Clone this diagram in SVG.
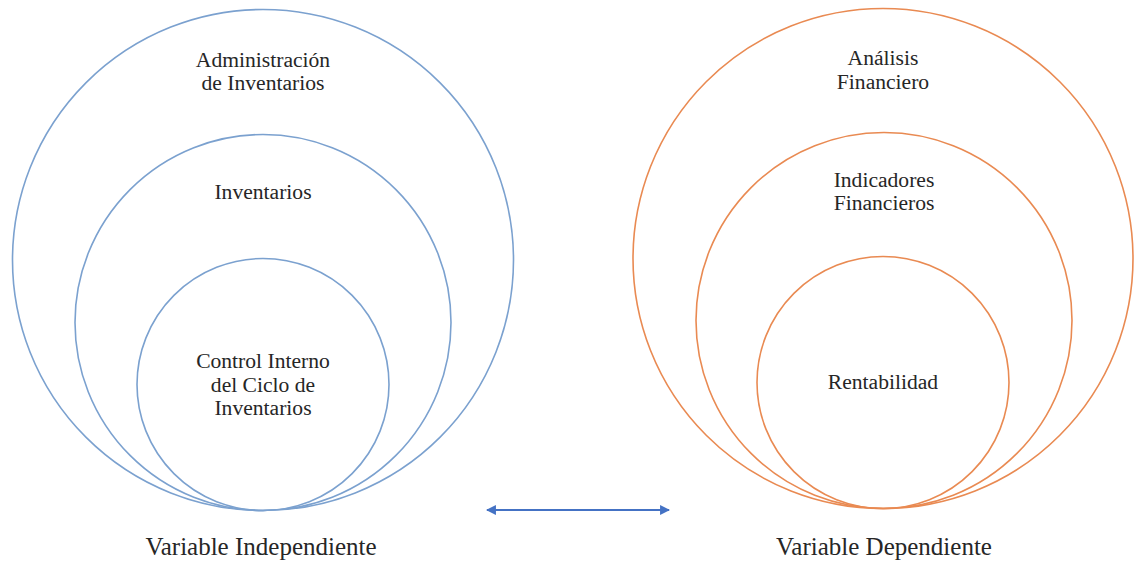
<svg xmlns="http://www.w3.org/2000/svg" width="1139" height="563" viewBox="0 0 1139 563">
  <style>
    .blue { fill: none; stroke: #7ba1cf; stroke-width: 1.6; }
    .orange { fill: none; stroke: #e98a52; stroke-width: 1.6; }
    .lbl { font-family: "Liberation Serif", "Times New Roman", serif; font-size: 21.6px; fill: #262626; text-anchor: middle; }
    .cap { font-family: "Liberation Serif", "Times New Roman", serif; font-size: 25px; fill: #262626; text-anchor: middle; }
    .link { stroke: #4472c4; stroke-width: 2.2; fill: none; }
  </style>
  <defs>
    <marker id="tip" viewBox="0 0 10 10" refX="9" refY="5" markerWidth="4.5" markerHeight="4.5" orient="auto-start-reverse" markerUnits="strokeWidth">
      <path d="M0,0 L10,5 L0,10 Z" fill="#4472c4"/>
    </marker>
  </defs>
  <rect width="1139" height="563" fill="#ffffff"/>

  <!-- independent variable: nested circles -->
  <g id="administracion">
    <circle class="blue" cx="263" cy="260" r="250.5"/>
    <text class="lbl" x="263" y="67">Administración</text>
    <text class="lbl" x="263" y="90">de Inventarios</text>
  </g>
  <g id="inventarios">
    <circle class="blue" cx="263" cy="322.5" r="188"/>
    <text class="lbl" x="263" y="199">Inventarios</text>
  </g>
  <g id="control-interno">
    <circle class="blue" cx="263" cy="384.5" r="126"/>
    <text class="lbl" x="263" y="368">Control Interno</text>
    <text class="lbl" x="263" y="392">del Ciclo de</text>
    <text class="lbl" x="263" y="415">Inventarios</text>
  </g>
  <g id="variable-independiente">
    <text class="cap" x="261" y="555">Variable Independiente</text>
  </g>

  <!-- dependent variable: nested circles -->
  <g id="analisis">
    <circle class="orange" cx="883" cy="258.5" r="250"/>
    <text class="lbl" x="883" y="65">Análisis</text>
    <text class="lbl" x="883" y="89">Financiero</text>
  </g>
  <g id="indicadores">
    <circle class="orange" cx="884" cy="320.5" r="188"/>
    <text class="lbl" x="884" y="187">Indicadores</text>
    <text class="lbl" x="884" y="210">Financieros</text>
  </g>
  <g id="rentabilidad">
    <circle class="orange" cx="883" cy="382.5" r="126"/>
    <text class="lbl" x="883" y="389">Rentabilidad</text>
  </g>
  <g id="variable-dependiente">
    <text class="cap" x="884" y="555">Variable Dependiente</text>
  </g>

  <!-- relation between the two variables -->
  <g id="connectors">
    <line class="link" x1="487" y1="510" x2="669" y2="510" marker-start="url(#tip)" marker-end="url(#tip)"/>
  </g>
</svg>
